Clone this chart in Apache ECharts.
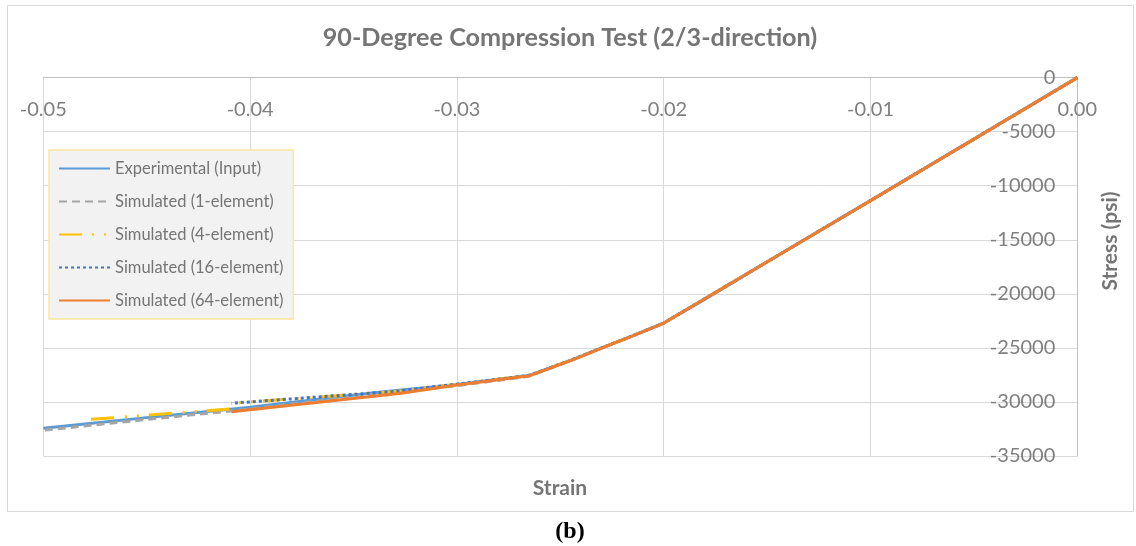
<!DOCTYPE html>
<html>
<head>
<meta charset="utf-8">
<script src="https://cdn.jsdelivr.net/npm/echarts@6/dist/echarts.min.js"></script>
<style>
html,body{margin:0;padding:0;background:#fff;}
#c{width:1136px;height:546px;}
</style>
</head>
<body>
<div id="c"></div>
<script>
// ---- data ----
const xTicks = [-0.05, -0.04, -0.03, -0.02, -0.01, 0.00];
const yTicks = [0, -5000, -10000, -15000, -20000, -25000, -30000, -35000];

const strainExp = [0, -0.005, -0.01, -0.015, -0.018, -0.02, -0.0215, -0.023, -0.0245, -0.0265, -0.03, -0.034, -0.04, -0.045, -0.05];
const stressExp = [0, -5690, -11380, -17060, -20500, -22720, -23880, -25000, -26150, -27550, -28380, -29150, -30490, -31450, -32440];

const strain1 = [0, -0.01, -0.02, -0.0215, -0.023, -0.0245, -0.0265, -0.03, -0.034, -0.04, -0.045, -0.05];
const stress1 = [0, -11380, -22700, -23880, -25020, -26180, -27620, -28500, -29300, -30650, -31620, -32620];

const strain4 = [0, -0.01, -0.02, -0.0215, -0.023, -0.0245, -0.0265, -0.03, -0.033, -0.037, -0.0405, -0.041, -0.0481];
const stress4 = [0, -11380, -22700, -23880, -25000, -26150, -27540, -28360, -29030, -29580, -30070, -30650, -31670];

const strain16 = [0, -0.01, -0.02, -0.0215, -0.023, -0.0245, -0.0265, -0.03, -0.033, -0.037, -0.0409];
const stress16 = [0, -11380, -22700, -23880, -25000, -26150, -27540, -28360, -29030, -29580, -30120];

const strain64 = [0, -0.01, -0.02, -0.0215, -0.023, -0.0245, -0.0265, -0.03, -0.0327, -0.0409];
const stress64 = [0, -11380, -22700, -23880, -25020, -26170, -27580, -28430, -29200, -30900];

const seriesNames = ['Experimental (Input)', 'Simulated (1-element)', 'Simulated (4-element)', 'Simulated (16-element)', 'Simulated (64-element)'];

function zip(a, b) { return a.map((v, i) => [v, b[i]]); }

const FONT = 'Lato, "Open Sans", "Liberation Sans", sans-serif';
const chart = echarts.init(document.getElementById('c'), null, {renderer: 'canvas'});

const styles = [
  {color: '#5B9BD5', type: 'solid'},
  {color: '#A5A5A5', type: [8, 5]},
  {color: '#FFC000', type: [23, 10, 2, 10, 2, 11]},
  {color: '#4472C4', type: [3, 3]},
  {color: '#ED7D31', type: 'solid'}
];
const dataSets = [zip(strainExp, stressExp), zip(strain1, stress1), zip(strain4, stress4), zip(strain16, stress16), zip(strain64, stress64)];

chart.setOption({
  animation: false,
  backgroundColor: '#ffffff',
  grid: {left: 43.3, right: 58.7, top: 77.6, bottom: 90, containLabel: false, outerBoundsMode: 'none'},
  xAxis: {
    type: 'value', min: xTicks[0], max: xTicks[xTicks.length - 1], interval: 0.01,
    position: 'top',
    axisLine: {show: true, onZero: false, lineStyle: {color: '#bfbfbf', width: 1}},
    axisTick: {show: false},
    axisLabel: {inside: true, fontSize: 20, fontFamily: FONT, color: '#7f7f7f', margin: 22, showMinLabel: true, showMaxLabel: true,
      formatter: v => v.toFixed(2)},
    splitLine: {show: true, lineStyle: {color: '#d9d9d9', width: 1}}
  },
  yAxis: {
    type: 'value', min: yTicks[yTicks.length - 1], max: yTicks[0], interval: 5000,
    position: 'right',
    axisLine: {show: true, onZero: false, lineStyle: {color: '#bfbfbf', width: 1}},
    axisTick: {show: false},
    axisLabel: {inside: true, fontSize: 20, fontFamily: FONT, color: '#7f7f7f', margin: 22, showMinLabel: true, showMaxLabel: true,
      formatter: v => String(v)},
    splitLine: {show: true, lineStyle: {color: '#d9d9d9', width: 1}}
  },
  legend: {
    orient: 'vertical', left: 49, top: 150,
    itemWidth: 51, itemHeight: 14, itemGap: 16,
    padding: [10, 10, 10, 9],
    backgroundColor: '#f2f2f2', borderColor: '#ffe699', borderWidth: 1.5,
    itemStyle: {color: 'rgba(0,0,0,0)', opacity: 0, borderWidth: 0},
    textStyle: {fontSize: 16.5, fontFamily: FONT, color: '#757575'},
    data: seriesNames
  },
  series: seriesNames.map((n, i) => ({
    name: n, type: 'line', data: dataSets[i], symbol: 'none', showSymbol: false,
    lineStyle: {color: styles[i].color, width: 3, type: styles[i].type},
    itemStyle: {color: styles[i].color},
    z: 2 + i
  })),
  graphic: [
    {type: 'rect', shape: {x: 7.5, y: 5.5, width: 1126, height: 506}, style: {fill: 'none', stroke: '#d9d9d9', lineWidth: 1}, silent: true, z: -1},
    {type: 'text', x: 570, y: 38, style: {text: '90-Degree Compression Test (2/3-direction)', align: 'center', verticalAlign: 'middle', fontSize: 25.2, fontWeight: 'bold', fontFamily: FONT, fill: '#757575'}},
    {type: 'text', x: 560, y: 488, style: {text: 'Strain', align: 'center', verticalAlign: 'middle', fontSize: 21, fontWeight: 'bold', fontFamily: FONT, fill: '#757575'}},
    {type: 'text', x: 1110, y: 241, rotation: Math.PI / 2, style: {text: 'Stress (psi)', align: 'center', verticalAlign: 'middle', fontSize: 21, fontWeight: 'bold', fontFamily: FONT, fill: '#757575'}},
    {type: 'text', x: 570, y: 532, style: {text: '(b)', align: 'center', verticalAlign: 'middle', fontSize: 24, fontWeight: 'bold', fontFamily: '"Liberation Serif", "DejaVu Serif", serif', fill: '#000000'}}
  ]
});
</script>
</body>
</html>
